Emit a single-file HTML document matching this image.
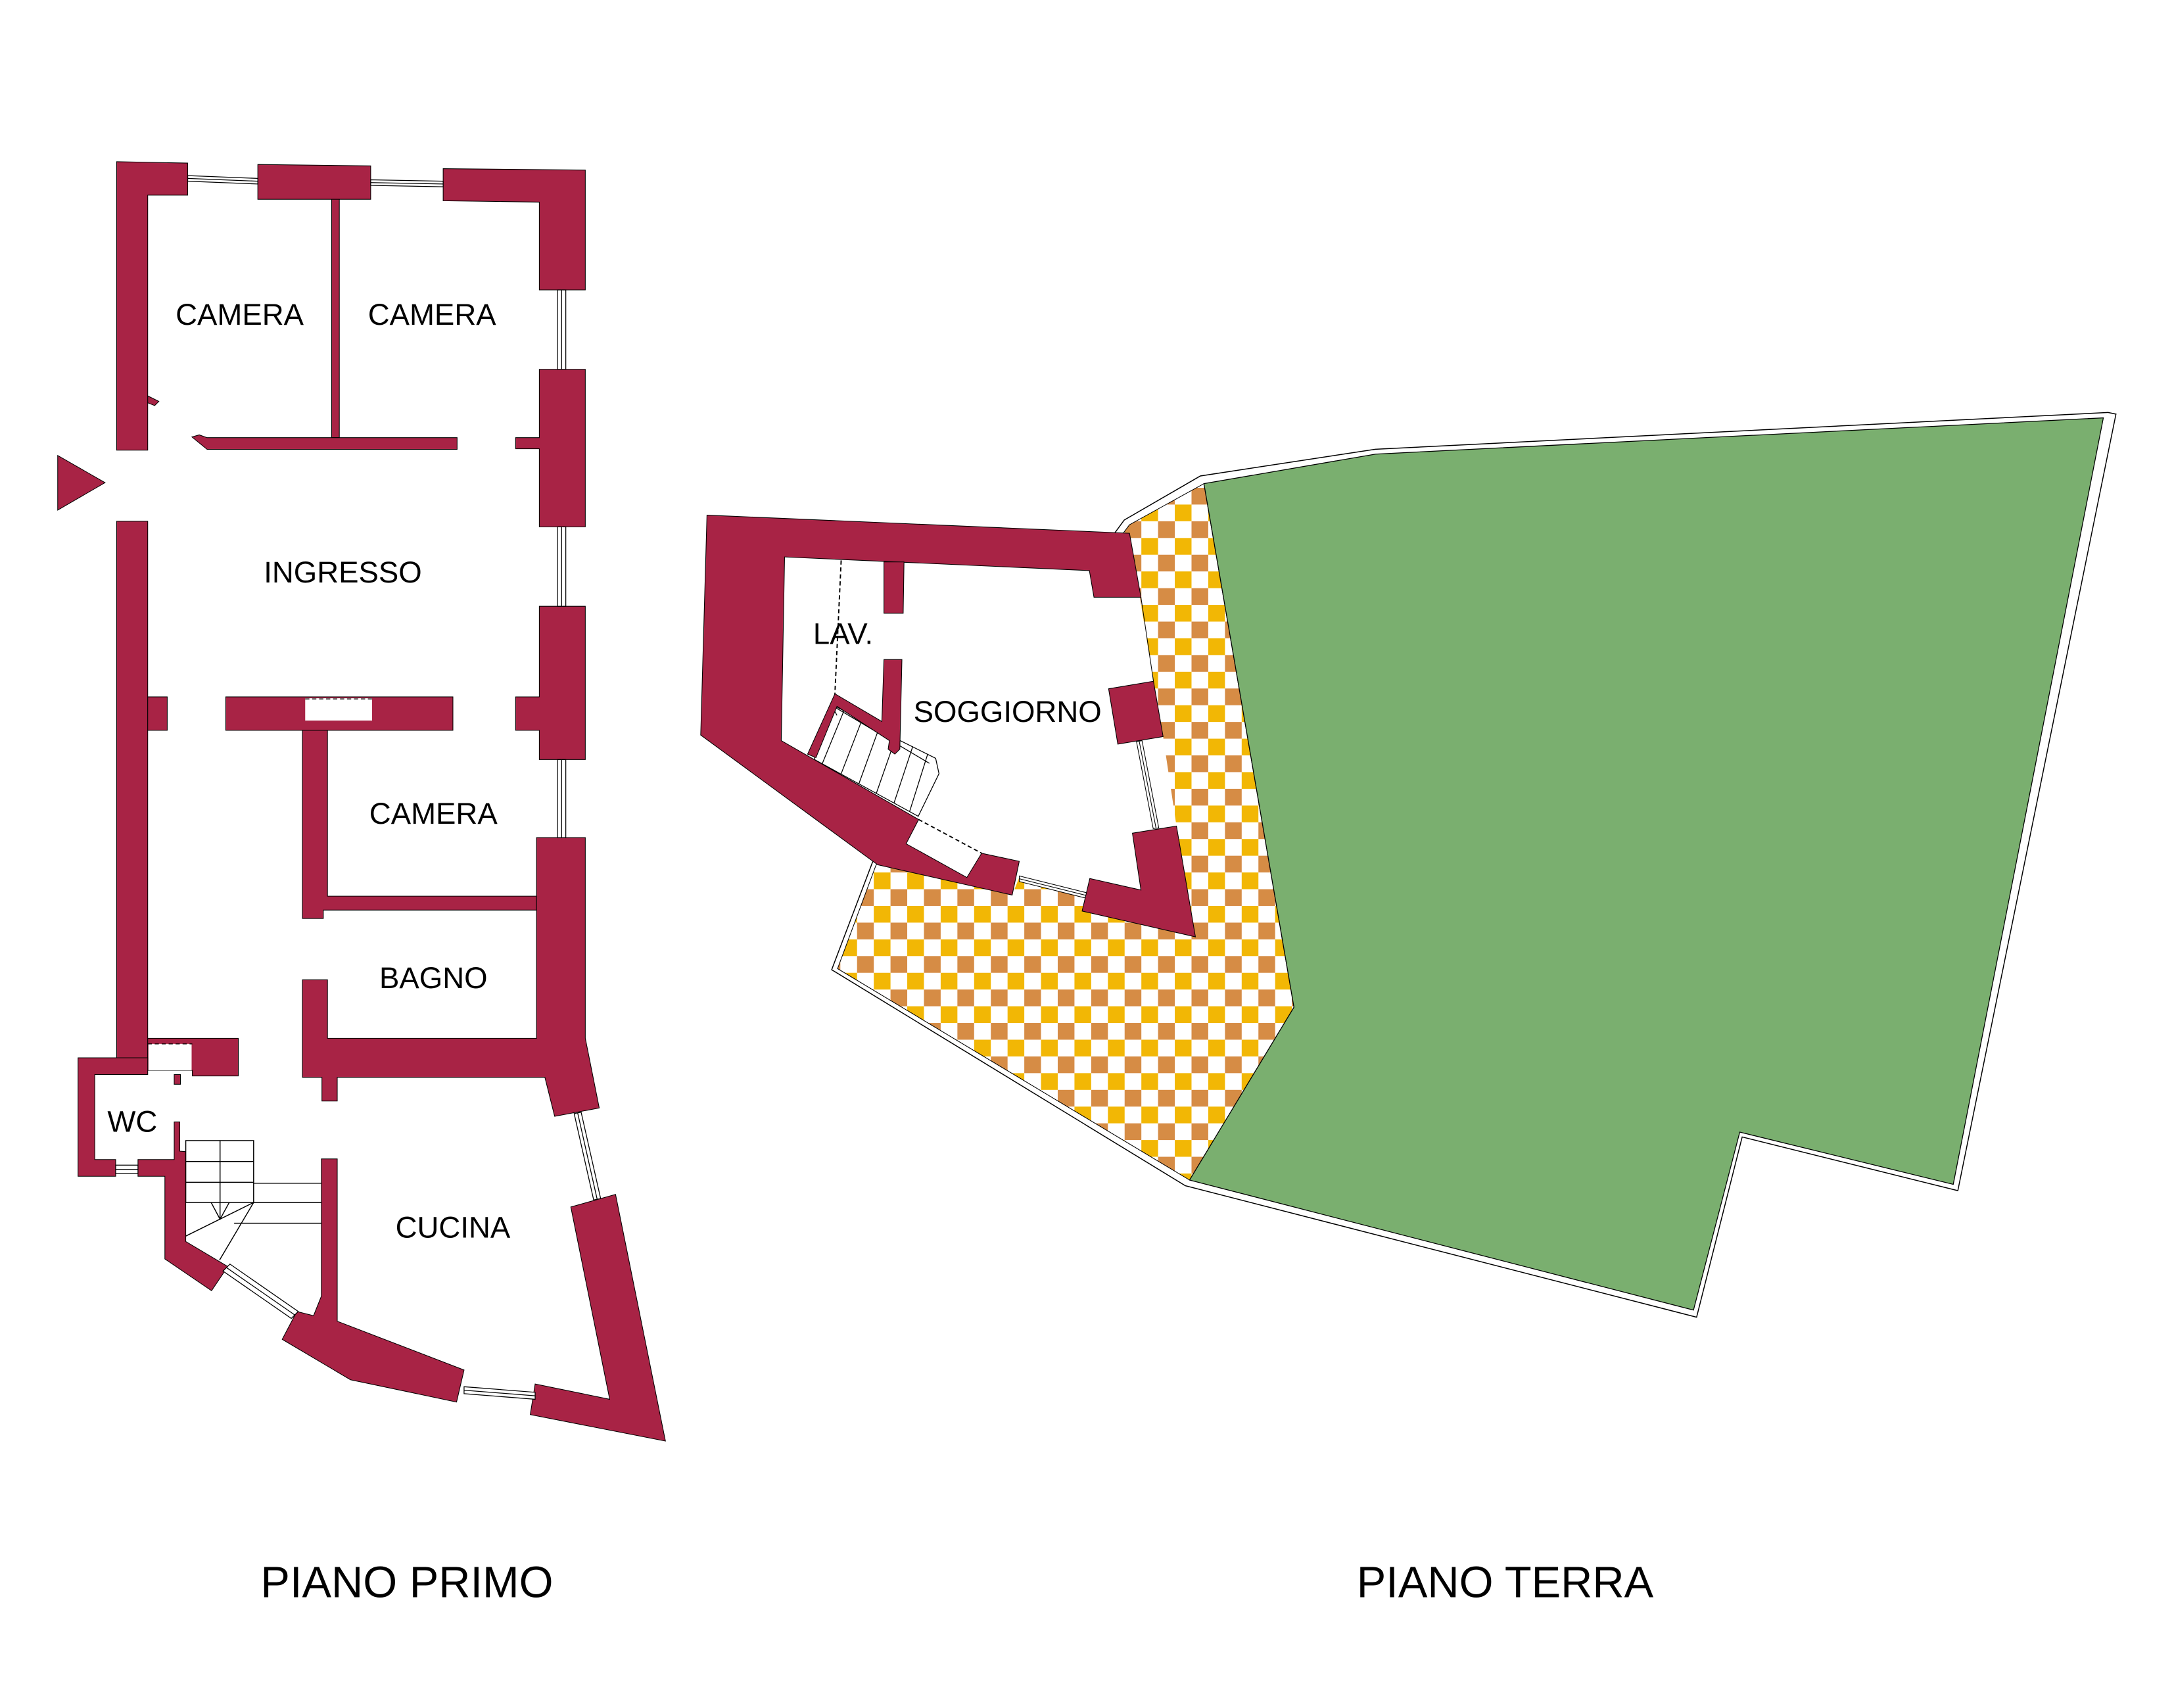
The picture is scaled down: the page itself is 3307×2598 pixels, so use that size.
<!DOCTYPE html>
<html><head><meta charset="utf-8"><style>
html,body{margin:0;padding:0;background:#fff;}
svg{display:block;}
text{font-family:"Liberation Sans",sans-serif;fill:#000;}
</style></head><body>
<svg width="3307" height="2598" viewBox="0 0 1560 1225.5" xmlns="http://www.w3.org/2000/svg">
<defs>
<pattern id="chk" patternUnits="userSpaceOnUse" width="24" height="24" x="3" y="2">
<rect width="24" height="24" fill="#fff"/>
<rect x="0" y="0" width="12" height="12" fill="#F2B705"/>
<rect x="12" y="12" width="12" height="12" fill="#D68C45"/>
</pattern>
</defs>
<rect width="1560" height="1225.5" fill="#fff"/>

<g fill="#A82345" stroke="#000" stroke-width="0.5">
<polygon points="41.4,326.8 75.4,346.3 41.4,366"/>
<polygon points="83.7,116 134.7,117 134.7,140 106,140 106,323 83.7,323"/>
<polygon points="106,284 114,288 111,291 106,289"/>
<polygon points="185,118 266,119 266,143 185,143"/>
<polygon points="318,121 420,122 420,208 387,208 387,145 318,144"/>
<rect x="238" y="143" width="5.5" height="171"/>
<polygon points="137.7,313.5 143,312 148.6,314 328,314 328,322.4 148.6,322.4"/>
<polygon points="387,265 420,265 420,378 387,378 387,322 370,322 370,314 387,314"/>
<polygon points="387,435 420,435 420,545 387,545 387,524 370,524 370,500 387,500"/>
<rect x="83.7" y="374" width="22.3" height="385"/>
<rect x="106" y="500" width="14" height="24"/>
<rect x="162" y="500" width="163" height="24"/>
<polygon points="217,524 235,524 235,643 385,643 385,653 235,653 232,653 232,659 217,659"/>
<polygon points="385,601 420,601 420,745 430,795 398,801 391,773 242,773 242,790 231,790 231,773 217,773 217,703 235,703 235,745 385,745"/>
<polygon points="106,745 171,745 171,772 138,772 138,768 106,768"/>
<polygon points="56,759 106,759 106,771 68,771 68,832 83,832 83,844 56,844"/>
<polygon points="99,832 125,832 125,805 129,805 129,826 133.3,826.3 133.3,890.8 163.5,908.8 151.8,926.1 118.3,903.3 118.3,844 99,844"/>
<rect x="125" y="771" width="4.5" height="7"/>
<polygon points="230.6,831.5 242,831.5 242,948 333,983 327.6,1006 251.5,990 202.5,961 213,941 225,944 230.6,930"/>
<polygon points="380.5,1015 384,993 437.5,1004 409.6,866 441.7,857 477.5,1034"/>
</g>
<g fill="#fff" stroke="#000" stroke-width="0.6">
<rect x="219" y="501" width="48" height="16" stroke="none"/>
<line x1="219" y1="501.5" x2="267" y2="501.5" stroke-dasharray="3,2"/>
<rect x="106.5" y="749" width="31" height="19" stroke="none"/>
<line x1="106" y1="749" x2="138" y2="749" stroke-dasharray="3,2"/>
</g>
<g fill="#fff" stroke="#000" stroke-width="0.6">
<polygon points="134.7,126 185,128 185,132 134.7,130"/><line x1="134.7" y1="128" x2="185" y2="130"/>
<polygon points="266,129 318,130 318,134 266,133"/><line x1="266" y1="131" x2="318" y2="132"/>
<rect x="400" y="208" width="6" height="57"/><line x1="403" y1="208" x2="403" y2="265"/>
<rect x="400" y="378" width="6" height="57"/><line x1="403" y1="378" x2="403" y2="435"/>
<rect x="400" y="545" width="6" height="56"/><line x1="403" y1="545" x2="403" y2="601"/>
<rect x="83" y="836" width="16" height="6"/><line x1="83" y1="839" x2="99" y2="839"/>
<polygon points="412,799 417,798 431,860 426,861"/><line x1="414.5" y1="798.5" x2="428.5" y2="860.5"/>
<polygon points="333,995 384,999 384,1004 333,1000"/><line x1="333" y1="997.5" x2="384" y2="1001.5"/>
<polygon points="160,912 165,907 214,941 209,946"/><line x1="162.5" y1="909.5" x2="211.5" y2="943.5"/>
</g>
<g fill="none" stroke="#000" stroke-width="0.7">
<rect x="133.3" y="818.4" width="48.7" height="44.4" fill="#fff"/>
<line x1="133.3" y1="833.4" x2="182" y2="833.4"/>
<line x1="133.3" y1="848.3" x2="182" y2="848.3"/>
<line x1="157.9" y1="818.4" x2="157.9" y2="874.8"/>
<line x1="182" y1="849" x2="230.9" y2="849"/>
<line x1="182" y1="862.8" x2="230.9" y2="862.8"/>
<line x1="168" y1="877.7" x2="230.9" y2="877.7"/>
<line x1="133.3" y1="886.9" x2="182" y2="862.8"/>
<line x1="182" y1="862.8" x2="157.5" y2="904.2"/>
<polyline points="151.5,862.8 157.9,874.8 164.5,862.8"/>
</g>
<g font-size="21.5" text-anchor="middle">
<text x="172" y="233">CAMERA</text>
<text x="310" y="233">CAMERA</text>
<text x="246" y="418">INGRESSO</text>
<text x="311" y="591">CAMERA</text>
<text x="311" y="709">BAGNO</text>
<text x="95" y="812">WC</text>
<text x="325" y="888">CUCINA</text>
</g>

<polygon points="807.5,374 861.7,342.6 987,323.5 1512.6,297.1 1517,298 1404,852.9 1249.3,814.4 1216.6,943.7 851,849.7 598.2,695.3 627.1,619.2" fill="#fff" stroke="#000" stroke-width="3"/>
<polygon points="807.5,374 861.7,342.6 987,323.5 1512.6,297.1 1517,298 1404,852.9 1249.3,814.4 1216.6,943.7 851,849.7 598.2,695.3 627.1,619.2" fill="#fff" stroke="#fff" stroke-width="1.6"/>
<polygon points="810.5,376.5 863.9,347 928.5,722.7 853.6,846.7 601,695 628.5,621" fill="url(#chk)" stroke="#000" stroke-width="0.5"/>
<polygon points="863.9,347 987.1,325.8 1509.3,299.8 1401.6,849.8 1248.4,812.3 1215.2,940 853.6,846.7 928.5,722.7" fill="#7AAF6F" stroke="#000" stroke-width="0.6"/>
<polygon points="507.3,369.6 810.5,382.6 827.7,488.8 834.6,528.5 844.2,592.7 857.8,672.2 776.5,653.7 779.6,642.2 731.4,629.6 726.3,642.2 629.8,620.5 502.8,527.4" fill="#fff" stroke="none"/>
<line x1="818.7" y1="428.5" x2="827.7" y2="488.8" stroke="#000" stroke-width="0.5"/>
<g fill="#fff" stroke="#000" stroke-width="0.5">
<polygon points="815.5,532 819.5,531.5 831.5,594 827.5,594.5"/><line x1="817.5" y1="532" x2="829.5" y2="594"/>
<polygon points="731.4,628.5 779.6,640.5 779.6,644.5 731.4,632.5"/><line x1="731.4" y1="630.5" x2="779.6" y2="642.5"/>
</g>
<g fill="#fff" stroke="#000" stroke-width="0.6">
<polygon points="599.9,507 646.2,531.5 671.4,544.1 673.8,555.1 658.9,585.7 584.1,544.8"/>
</g>
<g stroke="#000" stroke-width="0.6" fill="none">
<line x1="605.6" y1="510" x2="590" y2="548"/>
<line x1="618.5" y1="516.6" x2="603.5" y2="555.4"/>
<line x1="630.6" y1="522.9" x2="616.3" y2="562.4"/>
<line x1="642.8" y1="529.2" x2="628.8" y2="569.3"/>
<line x1="655" y1="535.5" x2="641.5" y2="576.2"/>
<line x1="665.7" y1="541" x2="652.7" y2="582.3"/>
<line x1="596.7" y1="506" x2="666.9" y2="547.7"/>
<polyline points="606.1,504.7 596.7,506 600.6,513.3"/>
</g>
<g fill="#A82345" stroke="#000" stroke-width="0.5">
<polygon points="507.3,369.6 810.5,382.6 818.7,428.5 785,428.5 781.7,409.4 563,399.6 560.6,531.4 659.2,588 650.2,605.4 693.8,629.6 704.4,612.2 731.4,618 726.3,642.2 629.8,620.5 502.8,527.4"/>
<polygon points="634.3,403.2 648.7,403.2 648.1,440 634.3,440"/>
<polygon points="599.1,497.8 632.8,517.7 634.3,473.2 647.2,473.2 645.7,537.5 642.1,541.1 637.3,537.5 638.2,531.4 600.6,506.8 585.5,543.6 579.5,541.1"/>
<polygon points="795.5,494.2 827.7,488.8 834.6,528.5 802.1,533.9"/>
<polygon points="812.6,597.8 844.2,592.7 857.8,672.2 776.5,653.7 782,630.3 818.7,638.6"/>
</g>
<g stroke="#000" stroke-width="0.9" stroke-dasharray="3,2" fill="none">
<line x1="603.6" y1="402.1" x2="599.1" y2="497.8"/>
<line x1="659.2" y1="588" x2="704.4" y2="612.2"/>
</g>
<g font-size="21.5" text-anchor="middle">
<text x="605" y="462">LAV.</text>
<text x="723" y="518">SOGGIORNO</text>
</g>

<g font-size="31.5" text-anchor="middle">
<text x="292" y="1146">PIANO PRIMO</text>
<text x="1080" y="1146">PIANO TERRA</text>
</g>
</svg>
</body></html>
